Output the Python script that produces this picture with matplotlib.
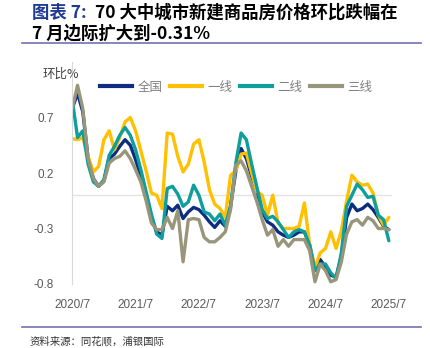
from matplotlib import pyplot as plt
from matplotlib.lines import Line2D
import numpy as np

# month-on-month % change, 2020/7 .. 2025/7
months = np.arange(61)
tick_pos = [0, 12, 24, 36, 48, 60]
tick_labels = ['2020/7', '2021/7', '2022/7', '2023/7', '2024/7', '2025/7']
series_names = ['全国', '一线', '二线', '三线']

national = [0.78, 0.92, 0.75, 0.33, 0.15, 0.08, 0.13, 0.33, 0.37, 0.44,
            0.50, 0.45, 0.32, 0.17, -0.02, -0.20, -0.33, -0.36, -0.10, -0.14,
            -0.09, -0.21, -0.15, -0.11, -0.13, -0.18, -0.24, -0.29, -0.23, -0.28,
            -0.10, 0.22, 0.42, 0.33, 0.17, 0.04, -0.15, -0.24, -0.27, -0.33,
            -0.36, -0.38, -0.36, -0.33, -0.33, -0.45, -0.68, -0.58, -0.65, -0.72,
            -0.74, -0.55, -0.20, -0.08, -0.14, -0.12, -0.08, -0.13, -0.20, -0.28,
            -0.31]
tier1 = [0.51, 0.50, 0.52, 0.35, 0.21, 0.26, 0.50, 0.58, 0.41, 0.52,
         0.66, 0.70, 0.58, 0.40, 0.22, 0.02, 0.00, -0.12, 0.56, 0.55,
         0.35, 0.21, 0.28, 0.46, 0.50, 0.30, 0.05, -0.08, -0.12, -0.20,
         0.18, 0.22, 0.37, 0.38, 0.20, 0.03, 0.00, -0.18, 0.00, -0.25,
         -0.30, -0.30, -0.30, -0.28, -0.07, -0.45, -0.65, -0.52, -0.48, -0.33,
         -0.48, -0.32, -0.05, 0.18, 0.12, 0.09, 0.10, 0.02, -0.18, -0.27,
         -0.20]
tier2 = [0.86, 0.52, 0.58, 0.28, 0.12, 0.08, 0.14, 0.36, 0.44, 0.54,
         0.61, 0.54, 0.41, 0.23, 0.03, -0.17, -0.35, -0.39, 0.06, 0.08,
         0.01, -0.10, -0.06, 0.09, 0.00, -0.15, -0.17, -0.23, -0.17, -0.27,
         -0.10, 0.29, 0.56, 0.50, 0.28, 0.07, -0.13, -0.21, -0.19, -0.24,
         -0.31, -0.38, -0.33, -0.31, -0.33, -0.45, -0.68, -0.62, -0.62, -0.70,
         -0.75, -0.52, -0.10, 0.00, 0.10, 0.05, -0.02, -0.01, -0.18, -0.22,
         -0.41]
tier3 = [0.78, 0.99, 0.78, 0.33, 0.15, 0.08, 0.12, 0.29, 0.33, 0.35,
         0.40, 0.33, 0.23, 0.12, -0.05, -0.25, -0.31, -0.31, -0.20, -0.30,
         -0.14, -0.60, -0.22, -0.21, -0.22, -0.38, -0.42, -0.42, -0.38, -0.33,
         -0.13, 0.27, 0.31, 0.22, 0.08, -0.06, -0.22, -0.36, -0.31, -0.46,
         -0.40, -0.46, -0.40, -0.40, -0.40, -0.50, -0.78, -0.62, -0.68, -0.78,
         -0.76, -0.60, -0.35, -0.24, -0.22, -0.27, -0.20, -0.23, -0.30, -0.30,
         -0.31]

colors = ['#0D2D80', '#FFC000', '#0E9E9C', '#97967A']
cjk = ['Noto Sans CJK SC', 'DejaVu Sans']
plt.rcParams['font.family'] = ['Liberation Sans', 'DejaVu Sans']

fig = plt.figure(figsize=(4.3, 3.48), dpi=100)
ax = fig.add_axes([72 / 430, 64 / 348, 320 / 430, 222 / 348])

for vals, c, name in zip([national, tier1, tier2, tier3], colors, series_names):
    ax.plot(months, vals, color=c, lw=2.4, solid_joinstyle='round',
            solid_capstyle='round', label=name)

ax.axhline(0, color='#E3E3E3', lw=1, zorder=0)
ax.set_xlim(-0.05, 60.6)
ax.set_ylim(-0.8, 1.2)
ax.set_yticks([0.7, 0.2, -0.3, -0.8])
ax.set_yticklabels(['0.7', '0.2', '-0.3', '-0.8'])
ax.set_xticks(tick_pos)
ax.set_xticklabels(tick_labels)
ax.tick_params(length=0, labelsize=8.5, colors='#595959')
ax.tick_params(axis='y', pad=13)
ax.tick_params(axis='x', pad=11)
for s in ['top', 'right', 'bottom']:
    ax.spines[s].set_visible(False)
ax.spines['left'].set_color('#D9D9D9')

handles = [Line2D([], [], color=c, lw=3) for c in colors]
leg = fig.legend(handles, series_names, loc='center', bbox_to_anchor=(236 / 430, 1 - 87 / 348),
                 ncol=4, frameon=False, handlelength=2.6, handletextpad=0.4,
                 columnspacing=0.6, prop={'family': cjk, 'size': 9})
for t in leg.get_texts():
    t.set_color('#7F7F7F')

fig.text(43 / 430, 1 - 74 / 348, '环比%', family=cjk, fontsize=9, color='#404040', va='center')

# title: navy prefix, rest black
t1 = fig.text(32 / 430, 1 - 13 / 348, '图表 7:', family=cjk, fontsize=12.5, fontweight='bold',
              color='#1F3A93', va='center')
ax.annotate('  70 大中城市新建商品房价格环比跌幅在', xy=(1, 0), xycoords=t1, va='bottom',
            family=cjk, fontsize=12.5, fontweight='bold', color='black', annotation_clip=False)
fig.text(32 / 430, 1 - 34 / 348, '7 月边际扩大到-0.31%', family=cjk, fontsize=12.5,
         fontweight='bold', color='black', va='center')

fig.add_artist(Line2D([22 / 430, 421 / 430], [1 - 43 / 348] * 2, color='#7570B3', lw=1.2))
fig.add_artist(Line2D([22 / 430, 421 / 430], [1 - 327 / 348] * 2, color='#7570B3', lw=1.2))

fig.text(30 / 430, 1 - 341 / 348, '资料来源：同花顺，浦银国际', family=cjk, fontsize=7.5,
         color='#333333', va='center')

fig.savefig('out.png', dpi=100)
